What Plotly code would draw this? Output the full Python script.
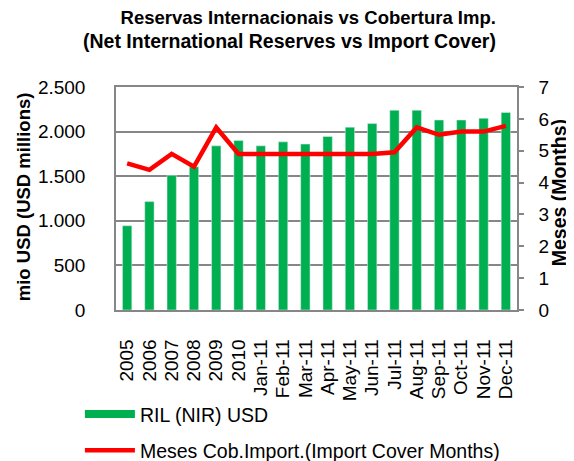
import plotly.graph_objects as go

periods = ["2005", "2006", "2007", "2008", "2009", "2010", "Jan-11", "Feb-11",
           "Mar-11", "Apr-11", "May-11", "Jun-11", "Jul-11", "Aug-11",
           "Sep-11", "Oct-11", "Nov-11", "Dec-11"]
reserves_usd = [945, 1215, 1510, 1605, 1840, 1900, 1840, 1885, 1860, 1945,
                2050, 2090, 2240, 2240, 2130, 2130, 2150, 2215]
cover_months = [4.6, 4.4, 4.9, 4.5, 5.73, 4.9, 4.9, 4.9, 4.9, 4.9, 4.9, 4.9,
                4.95, 5.73, 5.5, 5.6, 5.6, 5.78]
left_ticks = [0, 500, 1000, 1500, 2000, 2500]
left_labels = ["0", "500", "1.000", "1.500", "2.000", "2.500"]

GREEN = "#00B050"
RED = "#FF0000"
GRID = "#868686"
FONT = "Liberation Sans"

fig = go.Figure()

fig.add_trace(go.Bar(
    x=periods, y=reserves_usd, marker_color=GREEN, showlegend=False,
))
# legend stand-in so the bar series shows as a wide green stroke
fig.add_trace(go.Scatter(
    x=[None], y=[None], mode="lines", name="RIL (NIR) USD",
    line=dict(color=GREEN, width=8), legendgroup="a",
))
fig.add_trace(go.Scatter(
    x=periods, y=cover_months, mode="lines", yaxis="y2",
    name="Meses Cob.Import.(Import Cover Months)",
    line=dict(color=RED, width=4.5), legendgroup="b",
))

# page body adds an 8px margin, so the figure is drawn 8px smaller
fig.update_layout(
    width=566, height=453,
    margin=dict(l=108, r=57, t=79, b=151, autoexpand=False),
    plot_bgcolor="white", paper_bgcolor="white",
    font=dict(family=FONT, color="black", size=19),
    bargap=0.58,
    xaxis=dict(
        type="category", tickangle=-90, showgrid=False, automargin=False,
        tickmode="array", tickvals=periods,
        showline=True, linecolor=GRID, linewidth=1.5, mirror=True,
        ticks="", ticklabelstandoff=20, tickfont=dict(size=19),
    ),
    yaxis=dict(
        range=[0, 2500], tickvals=left_ticks, ticktext=left_labels,
        showgrid=True, gridcolor=GRID, gridwidth=1.5, automargin=False,
        showline=True, linecolor=GRID, linewidth=1.5,
        ticks="", ticklabelstandoff=25, zeroline=False,
    ),
    yaxis2=dict(
        range=[0, 7], dtick=1, overlaying="y", side="right", automargin=False,
        showgrid=False, showline=True, linecolor=GRID, linewidth=1.5,
        ticks="outside", ticklen=5, tickcolor=GRID, tickwidth=1.5,
        ticklabelstandoff=11, zeroline=False,
    ),
    legend=dict(
        x=-0.09, xanchor="left", y=-0.38, yanchor="top",
        tracegroupgap=8, font=dict(size=19.5), itemwidth=50,
        bgcolor="rgba(0,0,0,0)",
    ),
    annotations=[
        dict(text="<b>Reservas Internacionais vs Cobertura Imp.<br>"
                  "<span style='font-size:19.5px'>"
                  "(Net International Reserves vs Import Cover)</span></b>",
             xref="paper", yref="paper", x=0.953, xanchor="right",
             y=1.256, yanchor="middle", align="right", showarrow=False,
             font=dict(size=18.5)),
        dict(text="<b>mio USD (USD millions)</b>", textangle=-90,
             xref="paper", yref="paper", x=-0.232, y=0.51,
             xanchor="center", yanchor="middle",
             showarrow=False, font=dict(size=18.5)),
        dict(text="<b>Meses (Months)</b>", textangle=-90,
             xref="paper", yref="paper", x=1.105, y=0.524,
             xanchor="center", yanchor="middle",
             showarrow=False, font=dict(size=19.5)),
    ],
)

fig.write_html("out.html")
